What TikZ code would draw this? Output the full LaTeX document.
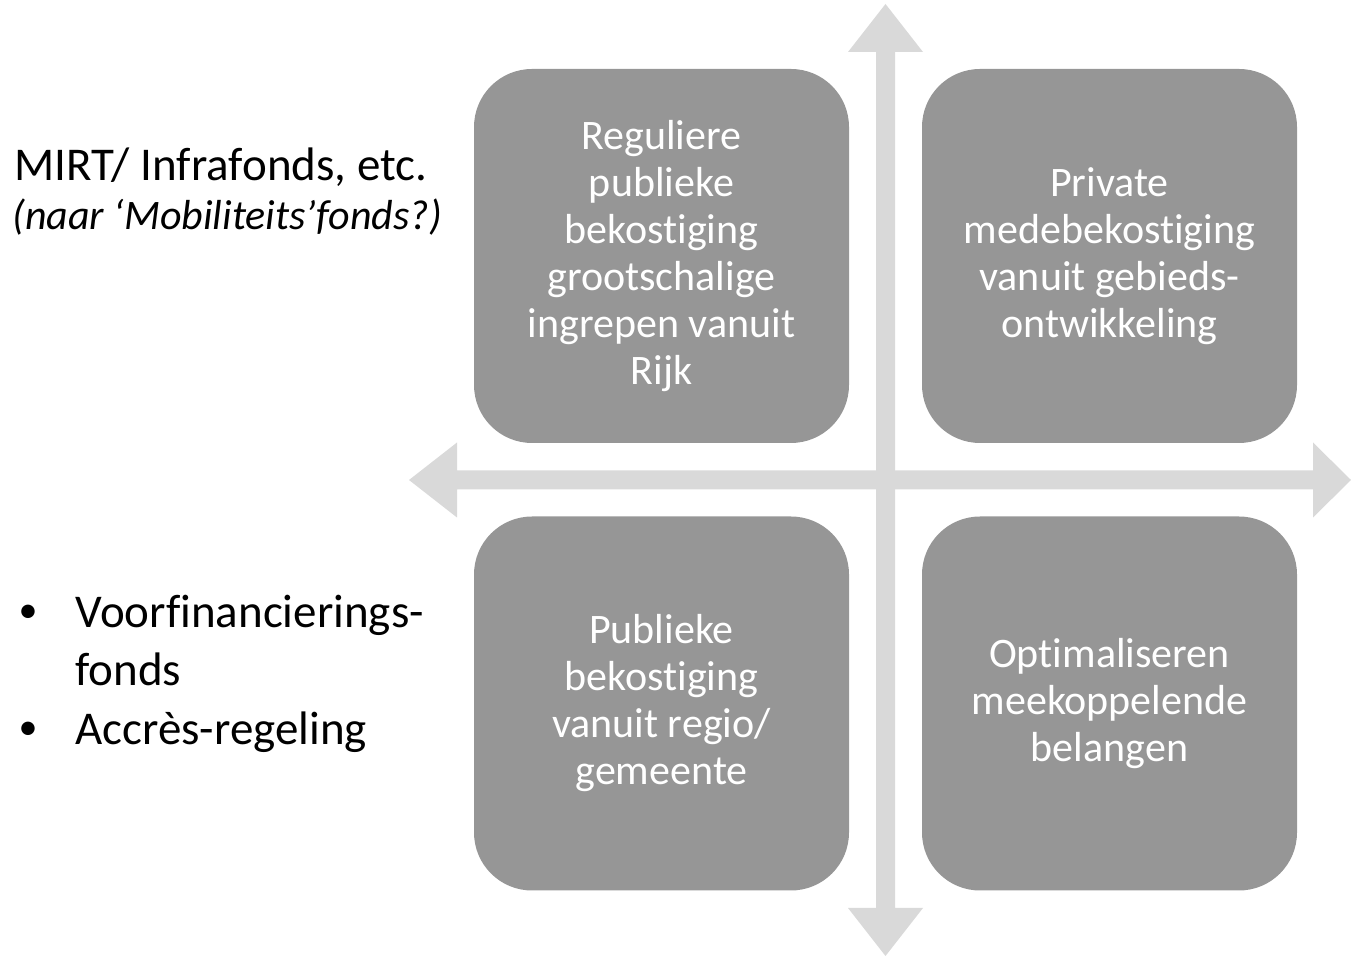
\documentclass[tikz,border=0pt]{standalone}
\usepackage{fontspec}
\setmainfont{Carlito}[Ligatures=NoCommon]
\definecolor{kwadgrijs}{RGB}{150,150,150}
\definecolor{pijlgrijs}{RGB}{217,217,217}

\begin{document}
\begin{tikzpicture}[x=0.5pt,y=-0.5pt,
   kwadrant/.style={fill=kwadgrijs, rounded corners=29pt, minimum width=187.5pt,
      minimum height=187pt, inner sep=0pt, text=white, align=center,
      font=\fontsize{21}{23.5}\selectfont},
   zijtekst/.style={anchor=base west, inner sep=0pt, font=\fontsize{23.5}{28}\selectfont},
   opsom/.style={anchor=base west, inner sep=0pt, font=\fontsize{23.5}{28}\selectfont},
   bol/.style={anchor=center, inner sep=0pt, font=\fontsize{19}{22}\selectfont}]
   \useasboundingbox (0,0) rectangle (1351,956);

   % assen
   \fill[pijlgrijs] (409,480) -- (457,442.5) -- (457,470.5) -- (1313,470.5) -- (1313,442.5)
      -- (1351,480) -- (1313,517.5) -- (1313,489.5) -- (457,489.5) -- (457,517.5) -- cycle;
   \fill[pijlgrijs] (885.5,4) -- (923,52) -- (895,52) -- (895,908) -- (923,908)
      -- (885.5,956) -- (848,908) -- (876,908) -- (876,52) -- (848,52) -- cycle;

   % kwadranten
   \node[kwadrant] (rijk) at (661.5,256) {Reguliere\\publieke\\bekostiging\\grootschalige\\ingrepen vanuit\\Rijk};
   \node[kwadrant] (privaat) at (1109.5,256) {Private\\medebekostiging\\vanuit gebieds-\\ontwikkeling};
   \node[kwadrant] (regio) at (661.5,703.5) {Publieke\\bekostiging\\vanuit regio/\\gemeente};
   \node[kwadrant] (belangen) at (1109.5,703.5) {Optimaliseren\\meekoppelende\\belangen};

   % links
   \node[zijtekst] (mirt) at (14,181) {MIRT/ Infrafonds, etc.};
   \node[zijtekst, font=\fontsize{21}{25}\itshape] (mob) at (12,230) {(naar ‘Mobiliteits’fonds?)};
   \node[bol] (bol1) at (28,614) {•};
   \node[opsom] (voorfin) at (75,628) {Voorfinancierings-};
   \node[opsom] (fonds) at (75,686) {fonds};
   \node[bol] (bol2) at (28,731) {•};
   \node[opsom] (accres) at (75,745) {Accrès-regeling};

\end{tikzpicture}
\end{document}
